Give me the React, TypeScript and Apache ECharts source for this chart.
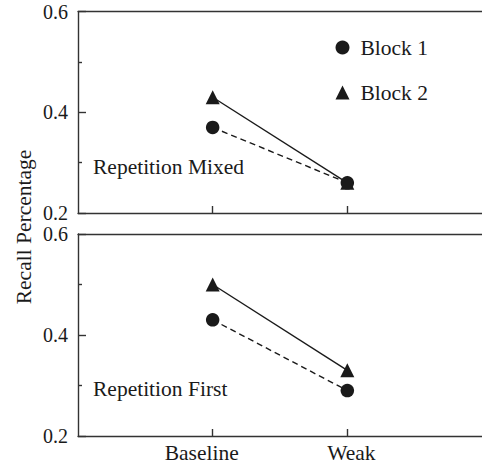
import React, { useEffect, useRef } from "react";
import * as echarts from "echarts";

const categories = ["Baseline", "Weak"];
const mixedBlock1 = [0.37, 0.26];
const mixedBlock2 = [0.43, 0.26];
const firstBlock1 = [0.43, 0.29];
const firstBlock2 = [0.5, 0.33];
const yTicks = [0.2, 0.4, 0.6];
const seriesNames = ["Block 1", "Block 2"];
const panelLabels = ["Repetition Mixed", "Repetition First"];
const yTitle = "Recall Percentage";

const FONT = "Liberation Serif, Times New Roman, serif";
const FS = 21.5;
const YFS = 20;
const INK = "#1a1a1a";
const AXIS = "#333";

const toPoints = (vals: number[]) => vals.map((v, i) => [i + 1, v]);

export default function App() {
  const ref = useRef<HTMLDivElement>(null);
  useEffect(() => {
    document.body.style.margin = "0";
    if (!ref.current) return;
    const chart = echarts.init(ref.current, null, { renderer: "svg" });
    const grids = [
      { left: 78, right: -5, top: 11.7, height: 201.3 },
      { left: 78, right: -5, top: 234, height: 202 },
    ];
    const xBottom = (gi: number, showLabel: boolean) => ({
      type: "value",
      gridIndex: gi,
      position: "bottom",
      min: 0,
      max: 3,
      splitLine: { show: false },
      axisLine: { show: true, lineStyle: { color: AXIS, width: 1.4 } },
      axisTick: {
        show: true,
        inside: true,
        length: 7,
        customValues: [1, 2],
        lineStyle: { color: AXIS, width: 1.4 },
      },
      axisLabel: {
        show: showLabel,
        customValues: [1, 2],
        margin: 6,
        fontFamily: FONT,
        fontSize: FS,
        color: INK,
        formatter: (v: number) => {
          const i = Math.round(v) - 1;
          if (i === 0) return "{b|" + categories[0] + "}";
          if (i === 1) return "{w|" + categories[1] + "}";
          return "";
        },
        rich: {
          b: { fontFamily: FONT, fontSize: FS, color: INK, padding: [0, 22, 0, 0] },
          w: { fontFamily: FONT, fontSize: FS, color: INK, padding: [0, 0, 0, 8] },
        },
      },
    });
    const xTop = (gi: number) => ({
      type: "value",
      gridIndex: gi,
      position: "top",
      min: 0,
      max: 3,
      splitLine: { show: false },
      axisLine: { show: true, lineStyle: { color: AXIS, width: 1.4 } },
      axisTick: { show: false },
      axisLabel: { show: false },
    });
    const yAxis = (gi: number) => ({
      type: "value",
      gridIndex: gi,
      min: yTicks[0],
      max: yTicks[yTicks.length - 1],
      interval: yTicks[1] - yTicks[0],
      splitLine: { show: false },
      axisLine: { show: true, lineStyle: { color: AXIS, width: 1.4 } },
      axisTick: { show: true, inside: true, length: 8, lineStyle: { color: AXIS, width: 1.4 } },
      minorTick: { show: true, splitNumber: 2, length: 4, lineStyle: { color: AXIS, width: 1.4 } },
      axisLabel: {
        margin: 10,
        fontFamily: FONT,
        fontSize: YFS,
        lineHeight: 18,
        color: INK,
        formatter: (v: number) => v.toFixed(1),
      },
    });
    const mk = (name: string, gi: number, vals: number[], dashed: boolean) => ({
      type: "line",
      name,
      xAxisIndex: gi * 2,
      yAxisIndex: gi,
      data: toPoints(vals),
      symbol: dashed ? "circle" : "triangle",
      symbolSize: dashed ? 13.5 : 14,
      itemStyle: { color: INK },
      lineStyle: { color: INK, width: 1.4, type: dashed ? [6, 4] : "solid" },
      z: dashed ? 3 : 2,
    });
    chart.setOption({
      animation: false,
      backgroundColor: "#fff",
      grid: grids,
      xAxis: [xBottom(0, false), xTop(0), xBottom(1, true), xTop(1)],
      yAxis: [yAxis(0), yAxis(1)],
      legend: {
        orient: "vertical",
        left: 335.5,
        top: 36.5,
        padding: 0,
        itemWidth: 14,
        itemHeight: 14,
        itemGap: 23,
        selectedMode: false,
        textStyle: { fontFamily: FONT, fontSize: FS, color: INK, padding: [0, 0, 0, 6] },
        data: [
          { name: seriesNames[0], icon: "circle" },
          { name: seriesNames[1], icon: "triangle" },
        ],
      },
      series: [
        mk(seriesNames[1], 0, mixedBlock2, false),
        mk(seriesNames[0], 0, mixedBlock1, true),
        mk(seriesNames[1], 1, firstBlock2, false),
        mk(seriesNames[0], 1, firstBlock1, true),
      ],
      graphic: [
        {
          type: "text",
          x: 24,
          y: 227,
          rotation: Math.PI / 2,
          style: {
            text: yTitle,
            fontFamily: FONT,
            fontSize: FS,
            fill: INK,
            align: "center",
            verticalAlign: "middle",
          },
        },
        {
          type: "text",
          x: 93,
          y: 167,
          style: { text: panelLabels[0], fontFamily: FONT, fontSize: FS, fill: INK, align: "left", verticalAlign: "middle" },
        },
        {
          type: "text",
          x: 93,
          y: 389,
          style: { text: panelLabels[1], fontFamily: FONT, fontSize: FS, fill: INK, align: "left", verticalAlign: "middle" },
        },
      ],
    });
    return () => chart.dispose();
  }, []);
  return <div ref={ref} style={{ width: 482, height: 467 }} />;
}
